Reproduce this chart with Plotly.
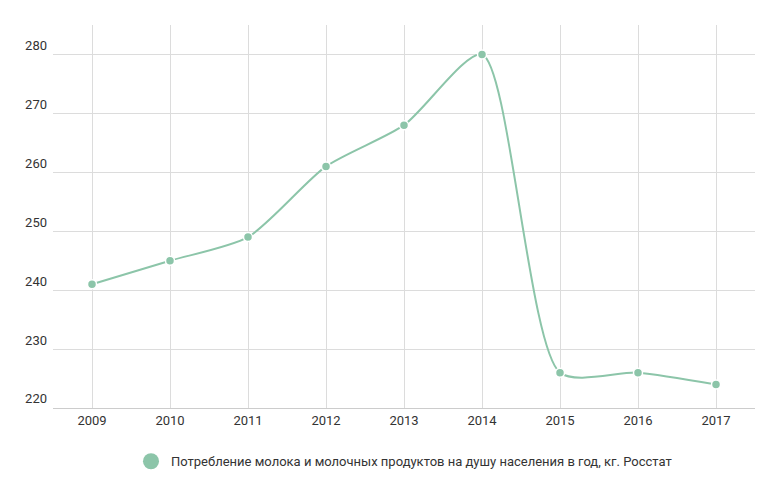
import plotly.graph_objects as go

years = [2009, 2010, 2011, 2012, 2013, 2014, 2015, 2016, 2017]
values = [241, 245, 249, 261, 268, 280, 226, 226, 224]
series_name = "Потребление молока и молочных продуктов на душу населения в год, кг. Росстат"

color = "#8cc5a9"

fig = go.Figure()
fig.add_trace(go.Scatter(
    x=years, y=values, name=series_name, showlegend=False,
    mode="lines+markers",
    line=dict(color=color, width=2, shape="spline", smoothing=0.7),
    marker=dict(size=9, color=color, line=dict(color="white", width=1.5)),
))
# legend-only entry with a circle marker
fig.add_trace(go.Scatter(
    x=[None], y=[None], name=series_name, mode="markers",
    marker=dict(size=16, color=color),
))

fig.update_layout(
    width=775, height=482,
    margin=dict(l=45, r=28, t=17, b=82),
    plot_bgcolor="white", paper_bgcolor="white",
    font=dict(family="Roboto", size=13, color="#333"),
    showlegend=True,
    legend=dict(orientation="h", x=0.5, xanchor="center", y=-0.1, yanchor="top",
                itemsizing="trace", font=dict(size=13, color="#333")),
    xaxis=dict(range=[2008.5, 2017.5], tickvals=years, showgrid=True,
               gridcolor="#dcdcdc", showline=True, linecolor="#ccc",
               zeroline=False, ticks="", automargin=False),
    yaxis=dict(range=[220, 285], tickvals=[220, 230, 240, 250, 260, 270, 280],
               showgrid=True, gridcolor="#dcdcdc", zeroline=False,
               ticklabelposition="outside top", ticks="", ticklabelstandoff=5,
               automargin=False),
)

fig.write_html("out.html")
